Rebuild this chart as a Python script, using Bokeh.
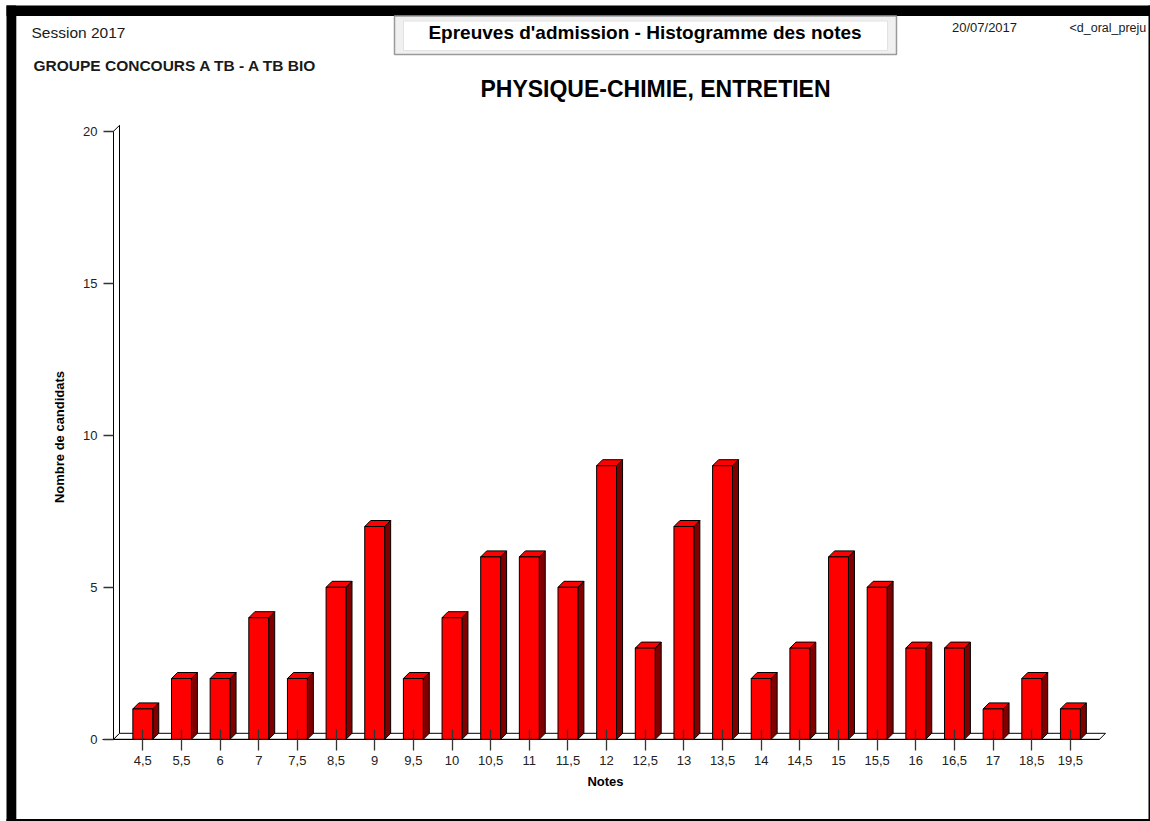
from math import pi
from bokeh.plotting import figure
from bokeh.models import Range1d, LinearAxis, FixedTicker
from bokeh.core.properties import value
from bokeh.embed import file_html
from bokeh.resources import INLINE

# ---- data ----
notes = ["4,5", "5,5", "6", "7", "7,5", "8,5", "9", "9,5", "10", "10,5", "11", "11,5",
         "12", "12,5", "13", "13,5", "14", "14,5", "15", "15,5", "16", "16,5", "17",
         "18,5", "19,5"]
candidats = [1, 2, 2, 4, 2, 5, 7, 2, 4, 6, 6, 5, 9, 3, 7, 9, 2, 3, 6, 5, 3, 3, 1, 2, 1]
y_ticks = [0, 5, 10, 15, 20]

# ---- layout ----
W, H = 1150, 821
PX_X = 38.65          # pixels per category
PX_Y = 30.4           # pixels per candidate
X0_PX = 142.3         # pixel centre of the first category
Y0_PX = 738.8         # pixel row of zero
XS = -X0_PX / PX_X
XE = XS + W / PX_X
YE = Y0_PX / PX_Y
YS = YE - H / PX_Y

def dx(px):
    return XS + px / PX_X

def dy(py):
    return YE - py / PX_Y

DX = 6 / PX_X   # 3D depth
DY = 6 / PX_Y
BW = 0.515
FONT_NAME = "Liberation Sans"
FONT = value(FONT_NAME)

p = figure(width=W, height=H, x_range=Range1d(XS, XE), y_range=Range1d(YS, YE),
           output_backend="svg", toolbar_location=None, min_border=0,
           x_axis_type=None, y_axis_type=None, outline_line_color=None,
           background_fill_color="white", border_fill_color="white")
p.grid.visible = False

# ---- frame of the report ----
p.quad(left=dx(6), right=XE, top=dy(5), bottom=dy(15.5), fill_color="black", line_color=None)
p.quad(left=dx(6), right=dx(15.5), top=dy(5), bottom=YS, fill_color="black", line_color=None)
p.quad(left=dx(15.5), right=dx(16.5), top=dy(15.5), bottom=dy(818.5), fill_color="#b0b0b0",
       line_color=None)
p.quad(left=dx(1148), right=XE, top=dy(5), bottom=YS, fill_color="black", line_color=None)
p.quad(left=dx(6), right=XE, top=dy(818.5), bottom=YS, fill_color="black", line_color=None)

# header box
p.quad(left=dx(394), right=dx(896), top=dy(15.5), bottom=dy(54), fill_color="#f0f0f0",
       line_color="#9a9a9a", line_width=1.5)
p.quad(left=dx(403), right=dx(887), top=dy(20.5), bottom=dy(50), fill_color="white",
       line_color="#e2e2e2", line_width=1)

def txt(x, y, s, size, bold=False, align="left", color="#1a1a1a", angle=0.0):
    p.text(x=[x], y=[y], text=[s], text_font=FONT, text_font_size=size,
           text_font_style="bold" if bold else "normal", text_align=align,
           text_baseline="middle", text_color=color, angle=angle)

txt(dx(31), dy(31.5), "Session 2017", "15.5px")
txt(dx(33), dy(65), "GROUPE CONCOURS A TB - A TB BIO", "15.5px", bold=True)
txt(dx(644.5), dy(31.5), "Epreuves d'admission - Histogramme des notes", "19px", bold=True,
    align="center", color="black")
txt(dx(951.5), dy(27), "20/07/2017", "13px")
txt(dx(1069), dy(27), "<d_oral_preju", "12.5px")
txt(dx(655), dy(88.5), "PHYSIQUE-CHIMIE, ENTRETIEN", "23px", bold=True, align="center",
    color="black")
txt(dx(605), dy(780.5), "Notes", "13px", bold=True, align="center", color="black")
txt(dx(58.5), dy(436.5), "Nombre de candidats", "13px", bold=True, align="center",
    color="black", angle=pi / 2)

# ---- 3D floor and wall ----
x_wall = dx(113)
x_end = dx(1099)
p.patch(x=[x_wall, x_end, x_end + DX, x_wall + DX], y=[0, 0, DY, DY],
        fill_color="white", line_color="black", line_width=1)
p.patch(x=[x_wall, x_wall + DX, x_wall + DX, x_wall], y=[0, DY, y_ticks[-1] + DY, y_ticks[-1]],
        fill_color="white", line_color="black", line_width=1)

# ---- bars ----
idx = list(range(len(notes)))
h = BW / 2
side_xs = [[i + h, i + h + DX, i + h + DX, i + h] for i in idx]
side_ys = [[0, DY, v + DY, v] for v in candidats]
top_xs = [[i - h, i - h + DX, i + h + DX, i + h] for i in idx]
top_ys = [[v, v + DY, v + DY, v] for v in candidats]
p.patches(xs=side_xs, ys=side_ys, fill_color="#800000", line_color="black", line_width=1)
p.patches(xs=top_xs, ys=top_ys, fill_color="#ff0000", line_color="black", line_width=1)
p.quad(left=[i - h for i in idx], right=[i + h for i in idx], bottom=0, top=candidats,
       fill_color="#ff0000", line_color="black", line_width=1)

# ---- axes ----
yax = LinearAxis(fixed_location=x_wall, bounds=(0, 20), ticker=FixedTicker(ticks=y_ticks),
                 major_tick_out=10, major_tick_in=0, minor_tick_out=0, minor_tick_in=0,
                 major_tick_line_color="#333333", major_tick_line_width=1.3,
                 axis_line_color="black",
                 major_label_text_font=FONT_NAME, major_label_text_font_size="13px",
                 major_label_text_color="#222222", major_label_standoff=6)
p.add_layout(yax, "left")

xax = LinearAxis(fixed_location=0, bounds=(dx(102), x_end), ticker=FixedTicker(ticks=idx),
                 major_label_overrides={i: n for i, n in zip(idx, notes)},
                 major_tick_out=11, major_tick_in=10, minor_tick_out=0, minor_tick_in=0,
                 major_tick_line_color="#333333", major_tick_line_width=1.3,
                 axis_line_color="black",
                 major_label_text_font=FONT_NAME, major_label_text_font_size="13px",
                 major_label_text_color="#222222", major_label_standoff=6)
p.add_layout(xax, "below")

open("out.html", "w").write(file_html(p, INLINE))
